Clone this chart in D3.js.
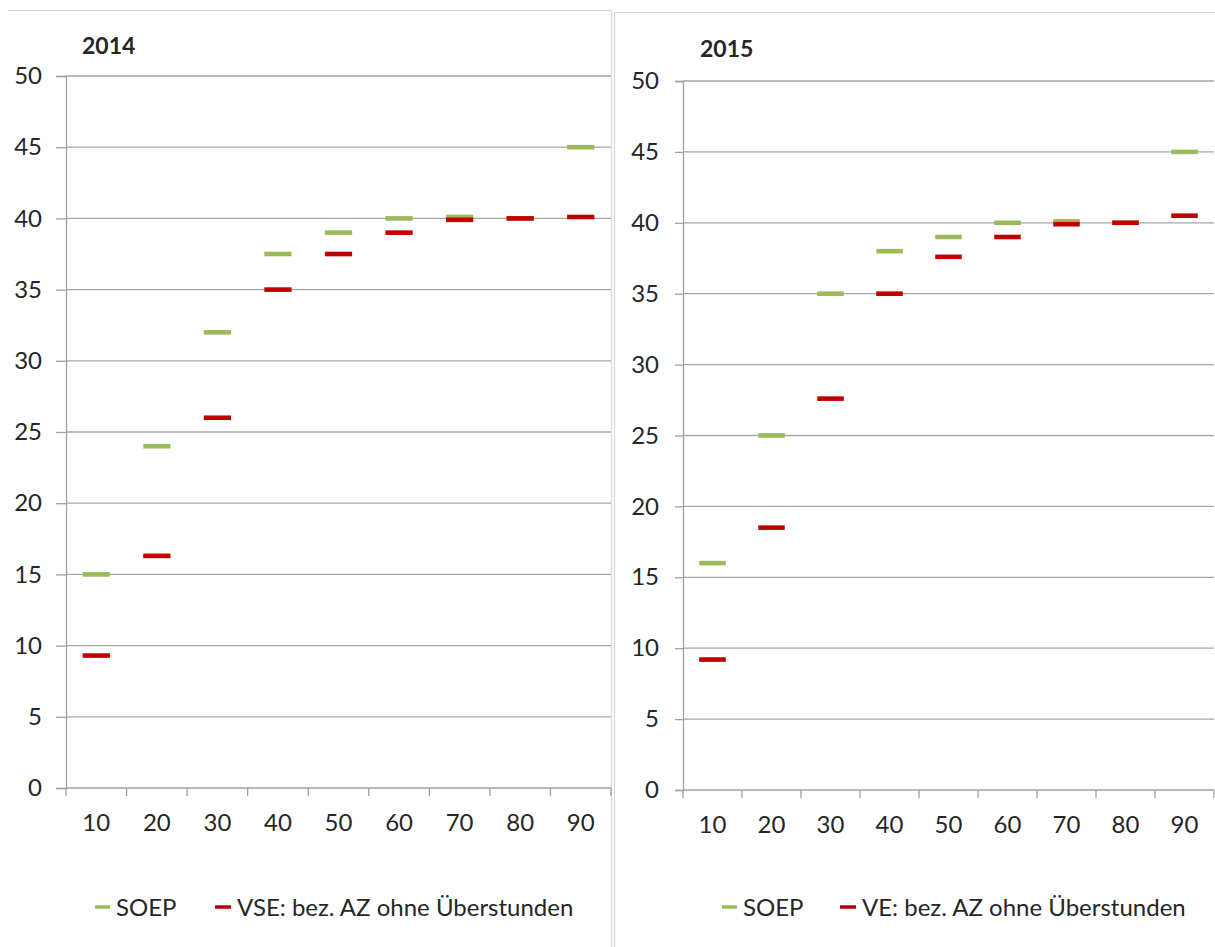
<!DOCTYPE html>
<meta charset="utf-8">
<style>
    body { margin: 0; background: #fff; }
    text { font-family: Lato, "Open Sans", sans-serif; fill: #262626; }
    .grid line { stroke: #a6a6a6; stroke-width: 1.3px; }
    .axis path, .axis line { stroke: #a0a0a0; stroke-width: 1.3px; }
    .frame { stroke: #d4d4d4; stroke-width: 1px; fill: none; }
</style>
<svg width="1215" height="947"></svg>
<script src="https://cdnjs.cloudflare.com/ajax/libs/d3/7.8.5/d3.min.js"></script>
<script>
    // percentiles on the x axis
    var categories = ["10", "20", "30", "40", "50", "60", "70", "80", "90"];
    var yTicks = [0, 5, 10, 15, 20, 25, 30, 35, 40, 45, 50];

    // 2014
    var soep2014 = [15, 24, 32, 37.5, 39, 40, 40.1, 40, 45];
    var vse2014 = [9.3, 16.3, 26, 35, 37.5, 39, 39.9, 40, 40.1];

    // 2015
    var soep2015 = [16, 25, 35, 38, 39, 40, 40.1, 40, 45];
    var ve2015 = [9.2, 18.5, 27.6, 35, 37.6, 39, 39.9, 40, 40.5];

    var green = "#9bbb59";
    var red = "#c00000";
    var fs = "24px";

    var svg = d3.select("svg");

    // panel frames
    svg.append("path").attr("class", "frame")
        .attr("d", "M8,10.5H611.5V947");
    svg.append("path").attr("class", "frame")
        .attr("d", "M614.5,947V12.5H1215");

    function panel(opts) {
        var g = svg.append("g");

        var x = d3.scaleBand()
            .domain(categories)
            .range([opts.left, opts.right]);

        var y = d3.scaleLinear()
            .domain([0, 50])
            .range([opts.bottom, opts.top]);

        // horizontal grid
        g.append("g").attr("class", "grid")
            .selectAll("line")
            .data(yTicks.filter(function (d) { return d > 0; }))
            .enter().append("line")
            .attr("x1", opts.left)
            .attr("x2", opts.right)
            .attr("y1", function (d) { return y(d); })
            .attr("y2", function (d) { return y(d); });

        var yAxis = g.append("g").attr("class", "axis")
            .attr("transform", "translate(" + opts.left + ",0)")
            .call(d3.axisLeft(y).tickValues(yTicks).tickSize(opts.yTick).tickPadding(opts.yPad));
        yAxis.selectAll("text").style("font-size", fs).attr("fill", "#262626");

        var xAxis = g.append("g").attr("class", "axis")
            .attr("transform", "translate(0," + opts.bottom + ")")
            .call(d3.axisBottom(x).tickSize(0).tickPadding(26));
        xAxis.select(".domain").remove();
        xAxis.selectAll("text").style("font-size", fs).attr("fill", "#262626");
        xAxis.append("line")
            .attr("x1", opts.left).attr("x2", opts.right)
            .attr("stroke", "#a0a0a0").attr("stroke-width", 1.3);

        // tick marks between categories
        g.append("g").attr("class", "axis")
            .selectAll("line")
            .data(categories.concat(["end"]))
            .enter().append("line")
            .attr("x1", function (d, i) { return opts.left + i * x.step(); })
            .attr("x2", function (d, i) { return opts.left + i * x.step(); })
            .attr("y1", opts.bottom)
            .attr("y2", opts.bottom + 8);

        var mw = x.bandwidth() * 0.45;

        function marks(values, color) {
            g.append("g")
                .selectAll("rect")
                .data(values)
                .enter().append("rect")
                .attr("x", function (d, i) { return x(categories[i]) + x.bandwidth() / 2 - mw / 2; })
                .attr("y", function (d) { return y(d) - 2.3; })
                .attr("width", mw)
                .attr("height", 4.6)
                .attr("fill", color);
        }
        marks(opts.soep, green);
        marks(opts.other, red);

        // title
        g.append("text")
            .attr("x", opts.titleX)
            .attr("y", opts.titleY)
            .style("font-size", "23px")
            .style("font-weight", "bold")
            .attr("fill", "#000")
            .text(opts.title);

        // legend
        var lg = g.append("g").attr("transform", "translate(0,907)");
        lg.append("line")
            .attr("x1", opts.legX).attr("x2", opts.legX + 15)
            .attr("stroke", green).attr("stroke-width", 3.5);
        lg.append("text")
            .attr("x", opts.legX + 21).attr("dy", "0.36em")
            .style("font-size", fs)
            .text("SOEP");
        lg.append("line")
            .attr("x1", opts.legX2).attr("x2", opts.legX2 + 16)
            .attr("stroke", red).attr("stroke-width", 3.5);
        lg.append("text")
            .attr("x", opts.legX2 + 22).attr("dy", "0.36em")
            .style("font-size", fs)
            .text(opts.otherName);
    }

    panel({
        left: 66, right: 611, top: 76, bottom: 788, yTick: 10, yPad: 14,
        soep: soep2014, other: vse2014,
        title: "2014", titleX: 82, titleY: 54,
        legX: 95, legX2: 215, otherName: "VSE: bez. AZ ohne Überstunden"
    });

    panel({
        left: 683, right: 1214, top: 81, bottom: 790, yTick: 8, yPad: 16,
        soep: soep2015, other: ve2015,
        title: "2015", titleX: 700, titleY: 57,
        legX: 722, legX2: 840, otherName: "VE: bez. AZ ohne Überstunden"
    });
</script>
